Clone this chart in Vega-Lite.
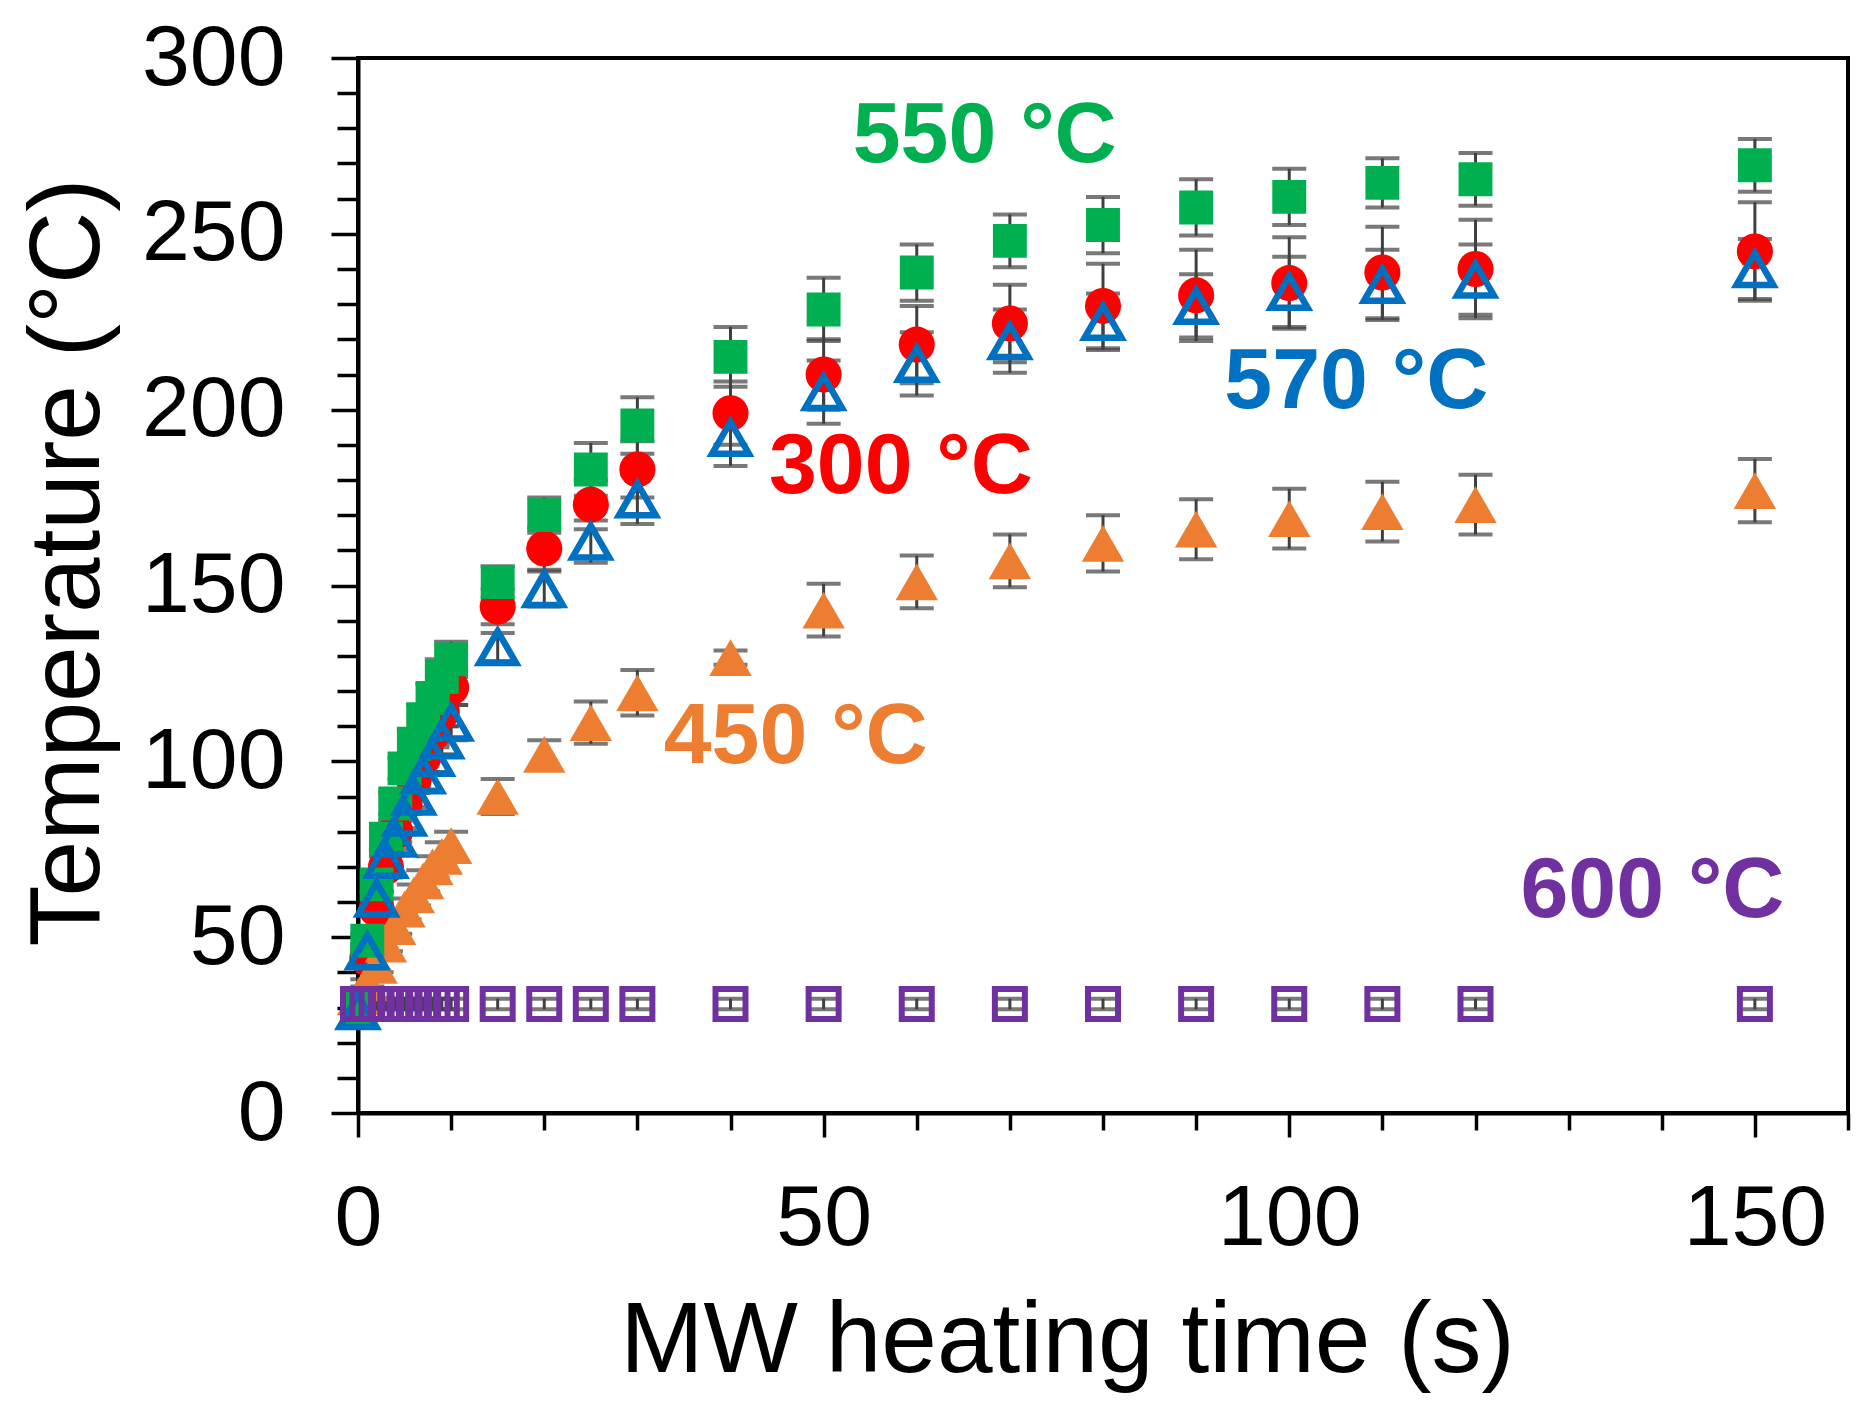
{
  "$schema": "https://vega.github.io/schema/vega-lite/v6.json",
  "width": 1490,
  "height": 1055,
  "autosize": {"type": "none"},
  "padding": {"left": 358, "top": 58, "right": 21, "bottom": 300},
  "background": "white",
  "config": {
    "view": {"stroke": "black", "strokeWidth": 4},
    "font": "Liberation Sans"
  },
  "datasets": {
    "runs": [
      {"series": "300 °C", "time": 0, "temp": 30, "err": 1},
      {"series": "300 °C", "time": 1, "temp": 44, "err": 2},
      {"series": "300 °C", "time": 2, "temp": 58, "err": 2},
      {"series": "300 °C", "time": 3, "temp": 70, "err": 3},
      {"series": "300 °C", "time": 4, "temp": 80, "err": 3},
      {"series": "300 °C", "time": 5, "temp": 88, "err": 3},
      {"series": "300 °C", "time": 6, "temp": 95, "err": 4},
      {"series": "300 °C", "time": 7, "temp": 101, "err": 4},
      {"series": "300 °C", "time": 8, "temp": 108, "err": 4},
      {"series": "300 °C", "time": 9, "temp": 114, "err": 4},
      {"series": "300 °C", "time": 10, "temp": 121, "err": 5},
      {"series": "300 °C", "time": 15, "temp": 144, "err": 5},
      {"series": "300 °C", "time": 20, "temp": 160.5, "err": 6},
      {"series": "300 °C", "time": 25, "temp": 173, "err": 7},
      {"series": "300 °C", "time": 30, "temp": 183, "err": 8},
      {"series": "300 °C", "time": 40, "temp": 199, "err": 9},
      {"series": "300 °C", "time": 50, "temp": 210, "err": 10},
      {"series": "300 °C", "time": 60, "temp": 218.5, "err": 11},
      {"series": "300 °C", "time": 70, "temp": 224.5, "err": 11},
      {"series": "300 °C", "time": 80, "temp": 229.5, "err": 12},
      {"series": "300 °C", "time": 90, "temp": 232.5, "err": 13},
      {"series": "300 °C", "time": 100, "temp": 236, "err": 13},
      {"series": "300 °C", "time": 110, "temp": 239, "err": 13},
      {"series": "300 °C", "time": 120, "temp": 240, "err": 14},
      {"series": "300 °C", "time": 150, "temp": 245, "err": 14},

      {"series": "450 °C", "time": 0, "temp": 33, "err": 1},
      {"series": "450 °C", "time": 1, "temp": 37, "err": 1},
      {"series": "450 °C", "time": 2, "temp": 42, "err": 2},
      {"series": "450 °C", "time": 3, "temp": 48, "err": 2},
      {"series": "450 °C", "time": 4, "temp": 53, "err": 2},
      {"series": "450 °C", "time": 5, "temp": 58, "err": 3},
      {"series": "450 °C", "time": 6, "temp": 62, "err": 3},
      {"series": "450 °C", "time": 7, "temp": 66, "err": 3},
      {"series": "450 °C", "time": 8, "temp": 70, "err": 3},
      {"series": "450 °C", "time": 9, "temp": 73, "err": 4},
      {"series": "450 °C", "time": 10, "temp": 76, "err": 4},
      {"series": "450 °C", "time": 15, "temp": 90, "err": 5},
      {"series": "450 °C", "time": 20, "temp": 102, "err": 4},
      {"series": "450 °C", "time": 25, "temp": 111, "err": 6},
      {"series": "450 °C", "time": 30, "temp": 119.5, "err": 6.5},
      {"series": "450 °C", "time": 40, "temp": 129.5, "err": 2},
      {"series": "450 °C", "time": 50, "temp": 143, "err": 7.5},
      {"series": "450 °C", "time": 60, "temp": 151, "err": 7.5},
      {"series": "450 °C", "time": 70, "temp": 157, "err": 7.5},
      {"series": "450 °C", "time": 80, "temp": 162, "err": 8},
      {"series": "450 °C", "time": 90, "temp": 166, "err": 8.5},
      {"series": "450 °C", "time": 100, "temp": 169, "err": 8.5},
      {"series": "450 °C", "time": 110, "temp": 171, "err": 8.5},
      {"series": "450 °C", "time": 120, "temp": 173, "err": 8.5},
      {"series": "450 °C", "time": 150, "temp": 177, "err": 9},

      {"series": "550 °C", "time": 0, "temp": 30, "err": 1},
      {"series": "550 °C", "time": 1, "temp": 49, "err": 2},
      {"series": "550 °C", "time": 2, "temp": 65, "err": 2},
      {"series": "550 °C", "time": 3, "temp": 78, "err": 3},
      {"series": "550 °C", "time": 4, "temp": 88, "err": 3},
      {"series": "550 °C", "time": 5, "temp": 98, "err": 3},
      {"series": "550 °C", "time": 6, "temp": 105, "err": 4},
      {"series": "550 °C", "time": 7, "temp": 112, "err": 4},
      {"series": "550 °C", "time": 8, "temp": 118, "err": 4},
      {"series": "550 °C", "time": 9, "temp": 124, "err": 5},
      {"series": "550 °C", "time": 10, "temp": 129, "err": 5},
      {"series": "550 °C", "time": 15, "temp": 151, "err": 4.5},
      {"series": "550 °C", "time": 20, "temp": 170, "err": 5},
      {"series": "550 °C", "time": 25, "temp": 183, "err": 7.5},
      {"series": "550 °C", "time": 30, "temp": 195.5, "err": 8},
      {"series": "550 °C", "time": 40, "temp": 215, "err": 8.5},
      {"series": "550 °C", "time": 50, "temp": 228.5, "err": 9},
      {"series": "550 °C", "time": 60, "temp": 239, "err": 8},
      {"series": "550 °C", "time": 70, "temp": 248, "err": 7.5},
      {"series": "550 °C", "time": 80, "temp": 252.5, "err": 8},
      {"series": "550 °C", "time": 90, "temp": 257.5, "err": 8},
      {"series": "550 °C", "time": 100, "temp": 260.5, "err": 8},
      {"series": "550 °C", "time": 110, "temp": 264.5, "err": 7},
      {"series": "550 °C", "time": 120, "temp": 265.5, "err": 7.5},
      {"series": "550 °C", "time": 150, "temp": 269.5, "err": 7.5},

      {"series": "570 °C", "time": 0, "temp": 29, "err": 1},
      {"series": "570 °C", "time": 1, "temp": 46, "err": 2},
      {"series": "570 °C", "time": 2, "temp": 61, "err": 2},
      {"series": "570 °C", "time": 3, "temp": 72, "err": 3},
      {"series": "570 °C", "time": 4, "temp": 78, "err": 3},
      {"series": "570 °C", "time": 5, "temp": 84, "err": 3},
      {"series": "570 °C", "time": 6, "temp": 90, "err": 3},
      {"series": "570 °C", "time": 7, "temp": 96, "err": 4},
      {"series": "570 °C", "time": 8, "temp": 101, "err": 4},
      {"series": "570 °C", "time": 9, "temp": 106, "err": 4},
      {"series": "570 °C", "time": 10, "temp": 111, "err": 5},
      {"series": "570 °C", "time": 15, "temp": 132.5, "err": 4},
      {"series": "570 °C", "time": 20, "temp": 149, "err": 5},
      {"series": "570 °C", "time": 25, "temp": 162.5, "err": 6},
      {"series": "570 °C", "time": 30, "temp": 174.5, "err": 7},
      {"series": "570 °C", "time": 40, "temp": 192, "err": 8},
      {"series": "570 °C", "time": 50, "temp": 205, "err": 9},
      {"series": "570 °C", "time": 60, "temp": 213, "err": 9},
      {"series": "570 °C", "time": 70, "temp": 219.5, "err": 9},
      {"series": "570 °C", "time": 80, "temp": 225, "err": 8},
      {"series": "570 °C", "time": 90, "temp": 229.5, "err": 9},
      {"series": "570 °C", "time": 100, "temp": 233.5, "err": 10},
      {"series": "570 °C", "time": 110, "temp": 235.5, "err": 10},
      {"series": "570 °C", "time": 120, "temp": 237, "err": 10},
      {"series": "570 °C", "time": 150, "temp": 240, "err": 8.5},

      {"series": "600 °C", "time": 0, "temp": 31, "err": 1.5},
      {"series": "600 °C", "time": 1, "temp": 31, "err": 1.5},
      {"series": "600 °C", "time": 2, "temp": 31, "err": 1.5},
      {"series": "600 °C", "time": 3, "temp": 31, "err": 1.5},
      {"series": "600 °C", "time": 4, "temp": 31, "err": 1.5},
      {"series": "600 °C", "time": 5, "temp": 31, "err": 1.5},
      {"series": "600 °C", "time": 6, "temp": 31, "err": 1.5},
      {"series": "600 °C", "time": 7, "temp": 31, "err": 1.5},
      {"series": "600 °C", "time": 8, "temp": 31, "err": 1.5},
      {"series": "600 °C", "time": 9, "temp": 31, "err": 1.5},
      {"series": "600 °C", "time": 10, "temp": 31, "err": 1.5},
      {"series": "600 °C", "time": 15, "temp": 31, "err": 1.5},
      {"series": "600 °C", "time": 20, "temp": 31, "err": 1.5},
      {"series": "600 °C", "time": 25, "temp": 31, "err": 1.5},
      {"series": "600 °C", "time": 30, "temp": 31, "err": 1.5},
      {"series": "600 °C", "time": 40, "temp": 31, "err": 1.5},
      {"series": "600 °C", "time": 50, "temp": 31, "err": 1.5},
      {"series": "600 °C", "time": 60, "temp": 31, "err": 1.5},
      {"series": "600 °C", "time": 70, "temp": 31, "err": 1.5},
      {"series": "600 °C", "time": 80, "temp": 31, "err": 1.5},
      {"series": "600 °C", "time": 90, "temp": 31, "err": 1.5},
      {"series": "600 °C", "time": 100, "temp": 31, "err": 1.5},
      {"series": "600 °C", "time": 110, "temp": 31, "err": 1.5},
      {"series": "600 °C", "time": 120, "temp": 31, "err": 1.5},
      {"series": "600 °C", "time": 150, "temp": 31, "err": 1.5}
    ],
    "notes": [
      {"series": "550 °C", "time": 67.3, "temp": 270.5},
      {"series": "300 °C", "time": 58.3, "temp": 176.4},
      {"series": "570 °C", "time": 107.2, "temp": 200.5},
      {"series": "450 °C", "time": 47, "temp": 99.5},
      {"series": "600 °C", "time": 139, "temp": 55.6}
    ]
  },
  "encoding": {
    "x": {
      "field": "time",
      "type": "quantitative",
      "scale": {"domain": [0, 160], "nice": false, "zero": false},
      "axis": {
        "values": [0, 10, 20, 30, 40, 50, 60, 70, 80, 90, 100, 110, 120, 130, 140, 150, 160],
        "labelExpr": "datum.value % 50 === 0 ? datum.label : ''",
        "title": "MW heating time (s)",
        "grid": false,
        "domainColor": "black",
        "domainWidth": 4,
        "tickColor": "black",
        "tickWidth": 3.5,
        "tickSize": {"condition": {"test": "datum.value % 50 === 0", "value": 24}, "value": 17},
        "labelFont": "Liberation Sans",
        "labelFontSize": 86,
        "labelColor": "black",
        "labelPadding": 39,
        "labelBaseline": "top",
        "labelFlush": false,
        "labelOverlap": false,
        "titleFont": "Liberation Sans",
        "titleFontSize": 100,
        "titleFontWeight": "normal",
        "titleColor": "black",
        "titleX": 709,
        "titleY": 258,
        "titleAlign": "center",
        "titleBaseline": "alphabetic"
      }
    },
    "y": {
      "field": "temp",
      "type": "quantitative",
      "scale": {"domain": [0, 300], "nice": false},
      "axis": {
        "values": [0, 10, 20, 30, 40, 50, 60, 70, 80, 90, 100, 110, 120, 130, 140, 150, 160, 170, 180, 190, 200, 210, 220, 230, 240, 250, 260, 270, 280, 290, 300],
        "labelExpr": "datum.value % 50 === 0 ? datum.label : ''",
        "title": "Temperature (°C)",
        "grid": false,
        "domainColor": "black",
        "domainWidth": 4,
        "tickColor": "black",
        "tickWidth": 3.5,
        "tickSize": {"condition": {"test": "datum.value % 50 === 0", "value": 27}, "value": 21},
        "labelFont": "Liberation Sans",
        "labelFontSize": 86,
        "labelColor": "black",
        "labelPadding": 46,
        "labelFlush": false,
        "labelOverlap": false,
        "titleFont": "Liberation Sans",
        "titleFontSize": 100,
        "titleFontWeight": "normal",
        "titleColor": "black",
        "titleAngle": 270,
        "titleX": -260,
        "titleY": 504,
        "titleAlign": "center",
        "titleBaseline": "alphabetic"
      }
    },
    "color": {
      "field": "series",
      "type": "nominal",
      "scale": {
        "domain": ["300 °C", "450 °C", "550 °C", "570 °C", "600 °C"],
        "range": ["#FF0000", "#ED7D31", "#00B050", "#0070C0", "#7030A0"]
      },
      "legend": null
    }
  },
  "layer": [
    {
      "data": {"name": "runs"},
      "mark": {
        "type": "errorbar",
        "color": "#404040",
        "thickness": 3,
        "ticks": {"size": 34, "thickness": 4}
      },
      "encoding": {
        "yError": {"field": "err"},
        "color": {"value": "#404040"}
      }
    },
    {
      "data": {"name": "runs"},
      "transform": [
        {"filter": {"field": "series", "equal": "300 °C"}}
      ],
      "mark": {"type": "point", "filled": true, "opacity": 1, "shape": "circle", "size": 1300}
    },
    {
      "data": {"name": "runs"},
      "transform": [
        {"filter": {"field": "series", "equal": "450 °C"}}
      ],
      "mark": {"type": "point", "filled": true, "opacity": 1, "shape": "triangle-up", "size": 1800}
    },
    {
      "data": {"name": "runs"},
      "transform": [
        {"filter": {"field": "series", "equal": "550 °C"}}
      ],
      "mark": {"type": "point", "filled": true, "opacity": 1, "shape": "square", "size": 1150}
    },
    {
      "data": {"name": "runs"},
      "transform": [
        {"filter": {"field": "series", "equal": "570 °C"}}
      ],
      "mark": {"type": "point", "filled": false, "opacity": 1, "shape": "triangle-up", "size": 1350, "strokeWidth": 6.5}
    },
    {
      "data": {"name": "runs"},
      "transform": [
        {"filter": {"field": "series", "equal": "600 °C"}}
      ],
      "mark": {"type": "point", "filled": false, "opacity": 1, "shape": "square", "size": 900, "strokeWidth": 6}
    },
    {
      "data": {"name": "notes"},
      "mark": {
        "type": "text",
        "font": "Liberation Sans",
        "fontWeight": "bold",
        "fontSize": 86,
        "align": "center",
        "baseline": "alphabetic"
      },
      "encoding": {
        "text": {"field": "series"}
      }
    }
  ]
}
